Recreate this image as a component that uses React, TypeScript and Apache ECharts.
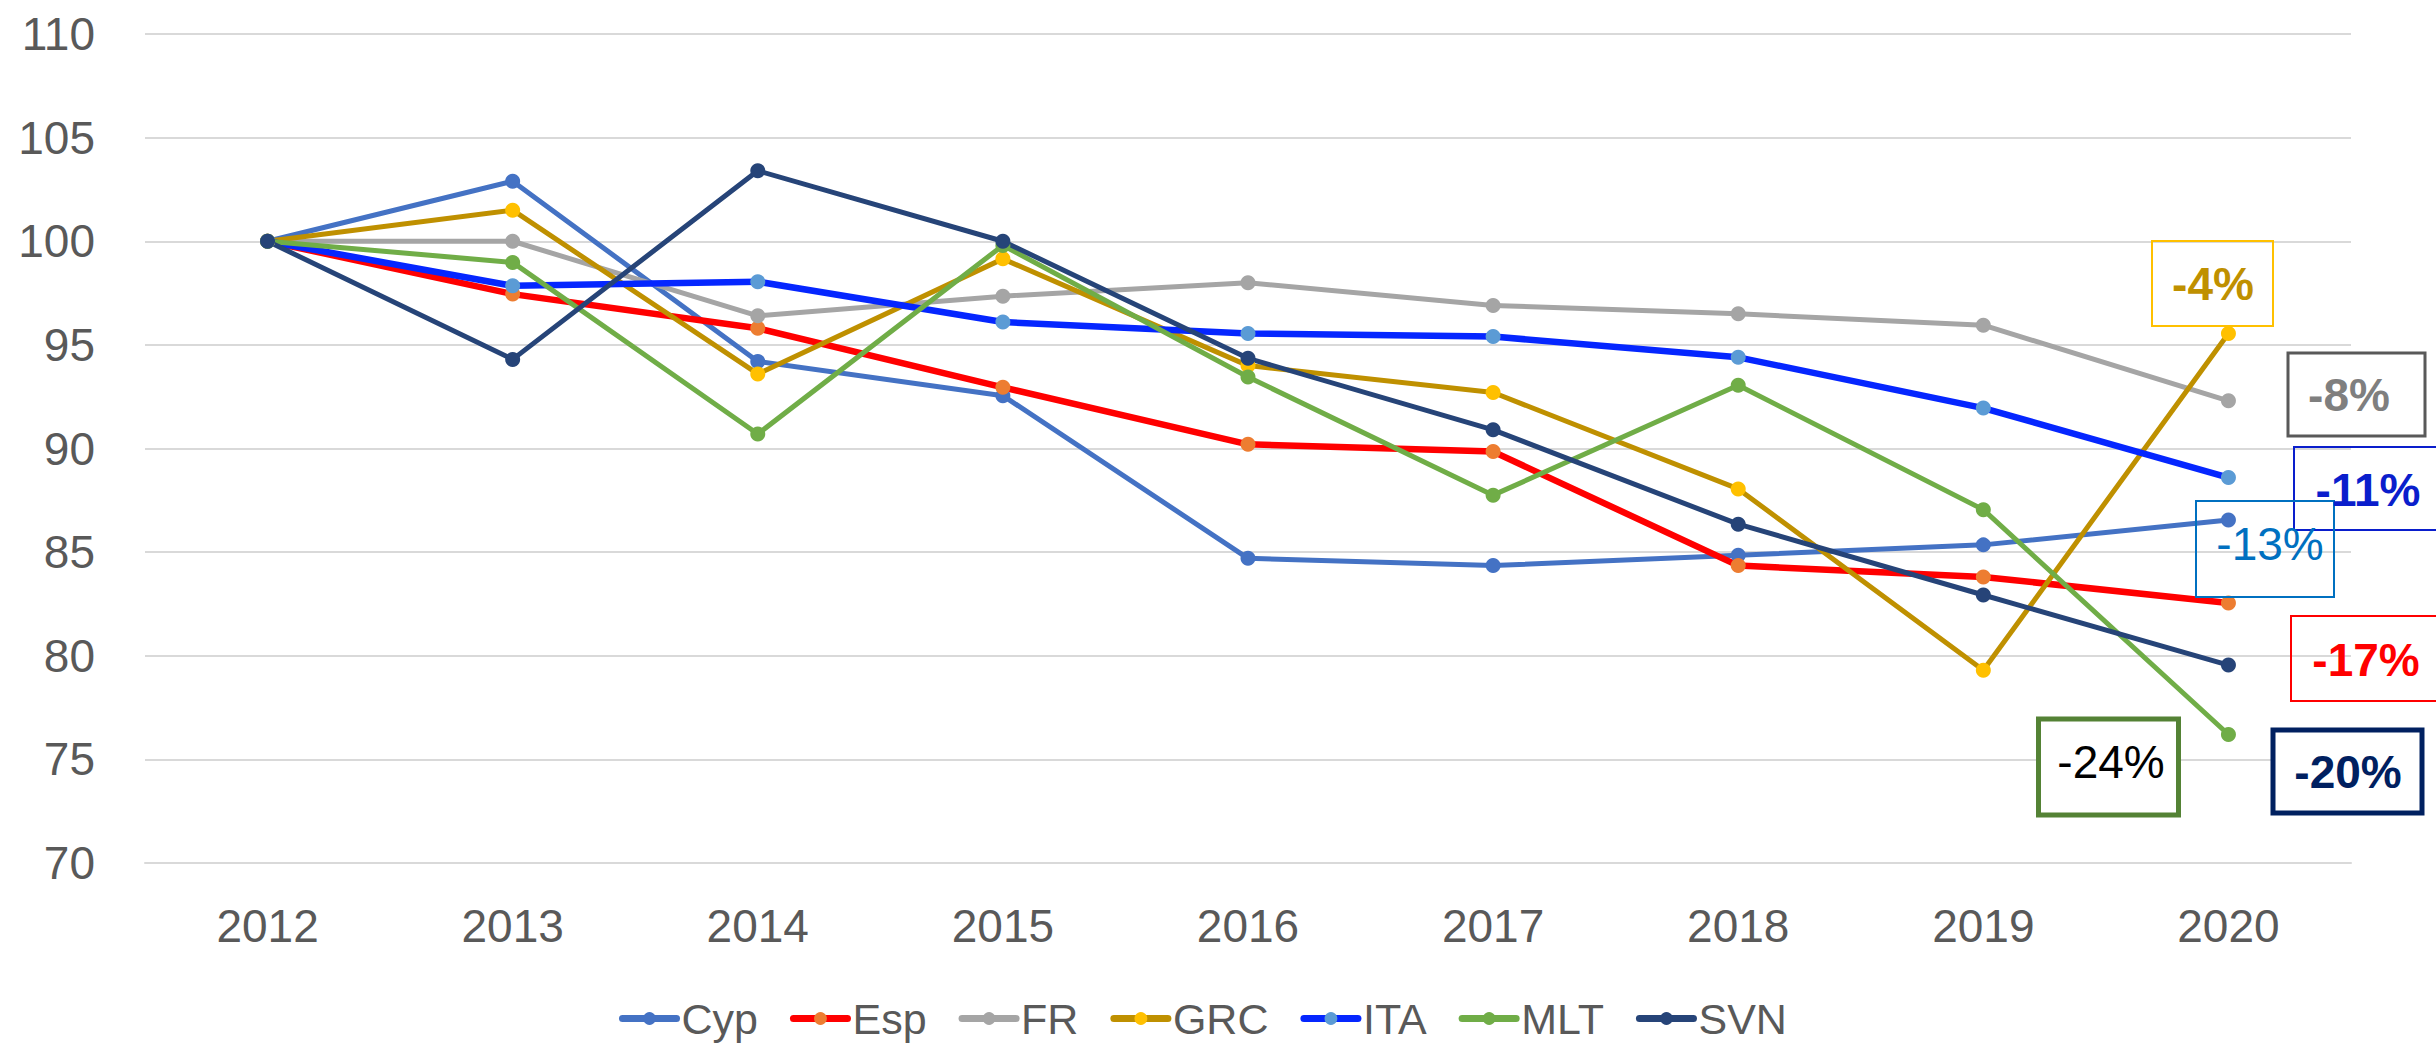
import React, { useEffect, useRef } from "react";
import * as echarts from "echarts";

const years = ["2012", "2013", "2014", "2015", "2016", "2017", "2018", "2019", "2020"];

const cyp = [100, 102.9, 94.2, 92.55, 84.7, 84.35, 84.85, 85.35, 86.55];
const esp = [100, 97.45, 95.8, 92.95, 90.2, 89.85, 84.35, 83.8, 82.55];
const fr = [100, 100, 96.4, 97.35, 98.0, 96.9, 96.5, 95.95, 92.3];
const grc = [100, 101.5, 93.6, 99.15, 94.0, 92.7, 88.05, 79.3, 95.55];
const ita = [100, 97.85, 98.05, 96.1, 95.55, 95.4, 94.4, 91.95, 88.6];
const mlt = [100, 98.98, 90.7, 99.8, 93.45, 87.75, 93.05, 87.05, 76.2];
const svn = [100, 94.3, 103.4, 100.0, 94.35, 90.9, 86.35, 82.93, 79.55];

const seriesNames = ["Cyp", "Esp", "FR", "GRC", "ITA", "MLT", "SVN"];
const seriesData = [cyp, esp, fr, grc, ita, mlt, svn];
const lineColors = ["#4472C4", "#FF0000", "#A5A5A5", "#BF9000", "#0526FF", "#70AD47", "#264478"];
const markerColors = ["#4472C4", "#ED7D31", "#A5A5A5", "#FFC000", "#5B9BD5", "#70AD47", "#264478"];
const lineWidths = [5, 6.5, 5, 5, 6.5, 5, 5];

// Annotation boxes (text, box geometry, colours)
const noteTexts = ["-4%", "-8%", "-11%", "-13%", "-17%", "-24%", "-20%"];
const noteBoxes = [
  [2152, 241, 121, 85],
  [2288, 353, 137, 83],
  [2294, 447, 150, 83],
  [2196, 501, 138, 96],
  [2291, 616, 150, 85],
  [2038.5, 719, 140, 96],
  [2273, 730, 149, 83],
];
const noteCenters = [
  [2213, 284],
  [2349, 395],
  [2368, 489.5],
  [2270, 544],
  [2366, 659.5],
  [2111, 762],
  [2348, 772],
];
const noteBorder = ["#FFC000", "#595959", "#0A1ECC", "#0070C0", "#FF0000", "#548235", "#002060"];
const noteBorderW = [2, 3, 2, 2, 2, 5, 5];
const noteTextColor = ["#BF9000", "#7F7F7F", "#0A1ECC", "#0070C0", "#FF0000", "#000000", "#002060"];
const noteBold = [true, true, true, false, true, false, true];
const noteFill = ["none", "none", "none", "none", "none", "#FFFFFF", "#FFFFFF"];

const FONT = "'Liberation Sans', Arial, sans-serif";

export default function App() {
  const ref = useRef<HTMLDivElement>(null);

  useEffect(() => {
    if (!ref.current) return;
    const chart = echarts.init(ref.current, undefined, { renderer: "svg" });

    const graphics: any[] = [];
    noteTexts.forEach((t, i) => {
      const [x, y, w, h] = noteBoxes[i];
      graphics.push({
        type: "rect",
        z: 100,
        shape: { x, y, width: w, height: h },
        style: { fill: noteFill[i], stroke: noteBorder[i], lineWidth: noteBorderW[i] },
      });
      graphics.push({
        type: "text",
        z: 101,
        x: noteCenters[i][0],
        y: noteCenters[i][1],
        style: {
          text: t,
          fill: noteTextColor[i],
          font: `${noteBold[i] ? "bold " : ""}46px ${FONT}`,
          textAlign: "center",
          textVerticalAlign: "middle",
        },
      });
    });

    chart.setOption({
      animation: false,
      backgroundColor: "#FFFFFF",
      grid: { left: 145, right: 85, top: 34, bottom: 180, containLabel: false },
      legend: {
        data: seriesNames,
        left: 614,
        top: 992,
        itemWidth: 54,
        itemHeight: 16,
        itemGap: 32,
        lineStyle: { width: 7, cap: "round" },
        textStyle: { fontSize: 43, color: "#595959", fontFamily: FONT },
      },
      xAxis: {
        type: "category",
        data: years,
        boundaryGap: true,
        axisLine: { show: true, lineStyle: { color: "#D9D9D9", width: 2 } },
        axisTick: { show: false },
        axisLabel: { fontSize: 46, color: "#595959", fontFamily: FONT, margin: 40 },
        splitLine: { show: false },
      },
      yAxis: {
        type: "value",
        min: 70,
        max: 110,
        interval: 5,
        axisLine: { show: false },
        axisTick: { show: false },
        axisLabel: { fontSize: 46, color: "#595959", fontFamily: FONT, margin: 50 },
        splitLine: { show: true, lineStyle: { color: "#D9D9D9", width: 2 } },
      },
      series: seriesNames.map((name, i) => ({
        type: "line",
        name,
        data: seriesData[i],
        symbol: "circle",
        symbolSize: 15,
        showSymbol: true,
        lineStyle: { color: lineColors[i], width: lineWidths[i] },
        itemStyle: { color: markerColors[i], borderWidth: 0 },
        emphasis: { disabled: true },
      })),
      graphic: graphics,
    });

    return () => chart.dispose();
  }, []);

  return (
    <div
      ref={ref}
      style={{ position: "fixed", left: 0, top: 0, width: 2436, height: 1043 }}
    />
  );
}
